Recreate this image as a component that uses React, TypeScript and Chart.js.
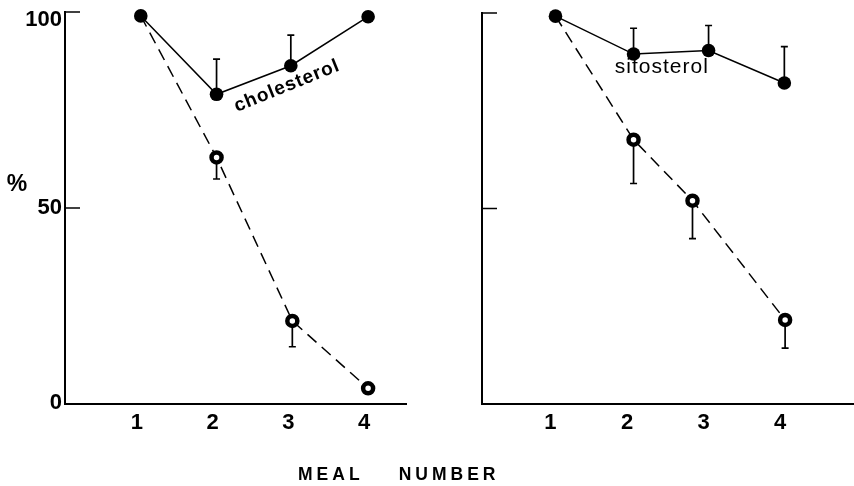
import React, { useEffect, useRef } from "react";
import { Chart, registerables } from "chart.js";

Chart.register(...registerables);

const FONT = '"Liberation Sans", Arial, Helvetica, sans-serif';

// shared axis ticks
const mealTicks = [1, 2, 3, 4];
const percentTicks = [0, 50, 100];

// cholesterol panel
const cholSolidMeal = [1, 2, 2.98, 4];
const cholSolid = [99, 79, 86.3, 98.8];
const cholSolidErrTop = [null, 88, 94.1, null];
const cholDashedMeal = [1, 2, 3, 4];
const cholDashed = [99, 62.9, 21.2, 4];
const cholDashedErrBottom = [null, 57.4, 14.6, null];

// sitosterol panel
const sitoSolidMeal = [1, 2.02, 3, 3.99];
const sitoSolid = [99.2, 89.5, 90.4, 82.1];
const sitoSolidErrTop = [null, 96.1, 96.8, 91.4];
const sitoDashedMeal = [1, 2.02, 2.79, 4];
const sitoDashed = [99.2, 67.6, 52, 21.5];
const sitoDashedErrBottom = [null, 56.4, 42.3, 14.3];

const zip = (xs: number[], ys: number[]) => xs.map((x, i) => ({ x, y: ys[i] }));

// one-sided error bars with a short cap, drawn beneath the markers
const errorBars = {
  id: "errorBars",
  beforeDatasetsDraw(chart: any) {
    const ctx = chart.ctx;
    const yScale = chart.scales.y;
    chart.data.datasets.forEach((ds: any, i: number) => {
      const ends = ds.errorTo as (number | null)[] | undefined;
      if (!ends) return;
      const meta = chart.getDatasetMeta(i);
      ctx.save();
      ctx.strokeStyle = "#000";
      ctx.lineWidth = 1.7;
      meta.data.forEach((pt: any, j: number) => {
        const v = ends[j];
        if (v == null) return;
        const py = yScale.getPixelForValue(v);
        ctx.beginPath();
        ctx.moveTo(pt.x, pt.y);
        ctx.lineTo(pt.x, py);
        ctx.moveTo(pt.x - 3.5, py);
        ctx.lineTo(pt.x + 3.5, py);
        ctx.stroke();
      });
      ctx.restore();
    });
  },
};

// y axis furniture: short tick marks pointing into the plot, and the
// tick labels (the top one sits just below its tick, as typeset)
const yAxisMarks = {
  id: "yAxisMarks",
  afterDraw(chart: any, _args: any, opts: any) {
    const ctx = chart.ctx;
    const yScale = chart.scales.y;
    const left = chart.chartArea.left;
    ctx.save();
    ctx.strokeStyle = "#000";
    ctx.lineWidth = 1.5;
    yScale.ticks.forEach((t: any) => {
      if (t.value <= yScale.min) return;
      const py = yScale.getPixelForValue(t.value);
      ctx.beginPath();
      ctx.moveTo(left, py);
      ctx.lineTo(left + (opts.length || 14), py);
      ctx.stroke();
    });
    if (opts.labels) {
      ctx.fillStyle = "#000";
      ctx.font = `bold 22px ${FONT}`;
      ctx.textAlign = "right";
      ctx.textBaseline = "middle";
      yScale.ticks.forEach((t: any) => {
        const py = yScale.getPixelForValue(t.value);
        const shift = t.value >= yScale.max ? 8 : t.value <= yScale.min ? -1 : 0;
        ctx.fillText(String(t.value), left - 3, py + shift);
      });
    }
    ctx.restore();
  },
};

// free text: curve names placed in data units, the % sign beside the axis
const curveLabels = {
  id: "curveLabels",
  afterDraw(chart: any, _args: any, opts: any) {
    const ctx = chart.ctx;
    const items = opts.items || [];
    items.forEach((item: any) => {
      const px =
        item.meal != null ? chart.scales.x.getPixelForValue(item.meal) : chart.chartArea.left + item.dx;
      const py = chart.scales.y.getPixelForValue(item.value);
      ctx.save();
      ctx.translate(px, py);
      ctx.rotate(((item.angle || 0) * Math.PI) / 180);
      ctx.font = item.font;
      if ("letterSpacing" in ctx) (ctx as any).letterSpacing = item.spacing || "0px";
      ctx.fillStyle = "#000";
      ctx.textAlign = "center";
      ctx.textBaseline = "middle";
      ctx.fillText(item.text, 0, 0);
      ctx.restore();
    });
  },
};

type PanelProps = {
  width: number;
  solid: { x: number; y: number }[];
  solidErr: (number | null)[];
  dashed: { x: number; y: number }[];
  dashedErr: (number | null)[];
  xMin: number;
  xMax: number;
  axisWidth: number;
  padTop: number;
  padRight: number;
  showYLabels: boolean;
  labelOffset: number;
  labels: any[];
};

function Panel(p: PanelProps) {
  const ref = useRef<HTMLCanvasElement | null>(null);
  useEffect(() => {
    if (!ref.current) return;
    const chart = new Chart(ref.current, {
      type: "line",
      data: {
        datasets: [
          {
            data: p.solid,
            borderColor: "#000",
            borderWidth: 1.5,
            backgroundColor: "#000",
            pointBackgroundColor: "#000",
            pointBorderColor: "#000",
            pointBorderWidth: 0,
            pointRadius: 6.8,
            clip: false,
            errorTo: p.solidErr,
          } as any,
          {
            data: p.dashed,
            borderColor: "#000",
            borderWidth: 1.5,
            borderDash: [12, 7],
            pointBackgroundColor: "#fff",
            pointBorderColor: "#000",
            pointBorderWidth: 4.5,
            pointRadius: p.dashed.map((_, i) => (i === 0 ? 0 : 5)),
            clip: false,
            errorTo: p.dashedErr,
          } as any,
        ],
      },
      options: {
        animation: false,
        responsive: false,
        events: [],
        layout: { autoPadding: false, padding: { top: p.padTop, right: p.padRight, left: 0, bottom: 0 } },
        scales: {
          x: {
            type: "linear",
            min: p.xMin,
            max: p.xMax,
            afterBuildTicks: (s: any) => {
              s.ticks = mealTicks.map((v) => ({ value: v }));
            },
            afterFit: (s: any) => {
              s.height = 486 - 404;
            },
            grid: { display: false, drawTicks: false },
            border: { display: true, color: "#000", width: 2 },
            ticks: {
              color: "#000",
              font: { family: FONT, size: 22, weight: "bold" },
              padding: 6,
              labelOffset: p.labelOffset,
              maxRotation: 0,
              autoSkip: false,
            },
          },
          y: {
            type: "linear",
            min: 0,
            max: 100,
            afterBuildTicks: (s: any) => {
              s.ticks = percentTicks.map((v) => ({ value: v }));
            },
            afterFit: (s: any) => {
              s.width = p.axisWidth;
            },
            grid: { display: false, drawTicks: false },
            border: { display: true, color: "#000", width: 2 },
            ticks: { display: false },
          },
        },
        plugins: {
          legend: { display: false },
          tooltip: { enabled: false },
          yAxisMarks: { length: 15, labels: p.showYLabels },
          curveLabels: { items: p.labels },
        } as any,
      },
      plugins: [errorBars, yAxisMarks, curveLabels],
    });
    return () => chart.destroy();
  }, []);
  return <canvas ref={ref} width={p.width} height={486} style={{ width: p.width, height: 486, display: "block" }} />;
}

export default function App() {
  return (
    <div style={{ position: "absolute", left: 0, top: 0, width: 854, height: 486, background: "#fff", overflow: "hidden" }}>
      <div style={{ position: "absolute", left: 0, top: 0 }}>
        <Panel
          width={430}
          solid={zip(cholSolidMeal, cholSolid)}
          solidErr={cholSolidErrTop}
          dashed={zip(cholDashedMeal, cholDashed)}
          dashedErr={cholDashedErrBottom}
          xMin={0}
          xMax={4.5}
          axisWidth={65}
          padTop={12}
          padRight={24}
          showYLabels={true}
          labelOffset={-4}
          labels={[
            { text: "cholesterol", meal: 2.93, value: 81.1, angle: -22, font: `bold 19px ${FONT}`, spacing: "1px" },
            { text: "%", dx: -48, value: 56, angle: 0, font: `bold 23px ${FONT}` },
          ]}
        />
      </div>
      <div style={{ position: "absolute", left: 430, top: 0 }}>
        <Panel
          width={424}
          solid={zip(sitoSolidMeal, sitoSolid)}
          solidErr={sitoSolidErrTop}
          dashed={zip(sitoDashedMeal, sitoDashed)}
          dashedErr={sitoDashedErrBottom}
          xMin={0.04}
          xMax={4.9}
          axisWidth={52}
          padTop={13}
          padRight={0}
          showYLabels={false}
          labelOffset={-5}
          labels={[{ text: "sitosterol", meal: 2.39, value: 86.2, angle: 0, font: `21px ${FONT}`, spacing: "1px" }]}
        />
      </div>
      <div
        style={{
          position: "absolute",
          left: 298,
          top: 465,
          fontFamily: FONT,
          fontWeight: "bold",
          fontSize: 17.5,
          lineHeight: "18px",
          letterSpacing: 4,
          whiteSpace: "pre",
          color: "#000",
        }}
      >
        {"MEAL    NUMBER"}
      </div>
    </div>
  );
}
